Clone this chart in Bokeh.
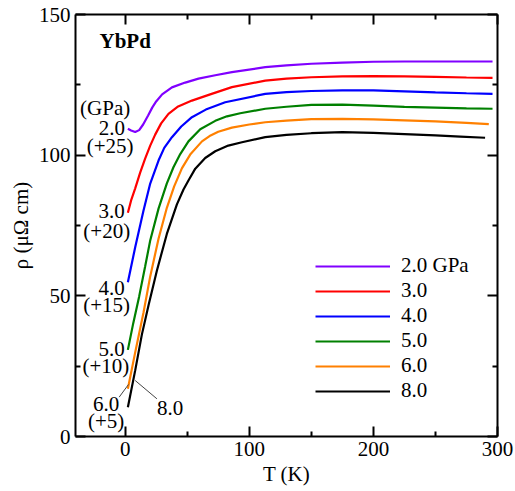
from bokeh.plotting import figure
from bokeh.models import Range1d, LinearAxis, FixedTicker, Legend, LegendItem
from bokeh.models.axes import Axis
from bokeh.core.properties import value
from bokeh.embed import file_html
from bokeh.resources import INLINE

FONT = "Liberation Serif"
FS = "21px"

# ---- data (T in K, rho in micro-ohm cm, offsets already included) ----
T_2 = [2.2, 4.8, 8.1, 11.3, 14.5, 18.5, 21.8, 25.0, 29.8, 37.7, 48.4, 59.1, 72.6, 86.0, 112.9,
       130, 150, 175, 200, 225, 250, 275, 296]
R_2 = [109.4, 108.8, 108.2, 108.9, 110.9, 114.1, 116.9, 119.1, 121.6, 124.1, 125.8, 127.2, 128.4, 129.5, 131.3,
       131.9, 132.5, 132.9, 133.2, 133.3, 133.3, 133.3, 133.3]

T_3 = [2.2, 4.8, 8.1, 12.1, 16.1, 20.2, 24.2, 29.0, 34.9, 42.7, 53.8, 68.5, 86.0, 112.9,
       130, 150, 175, 200, 225, 250, 275, 296]
R_3 = [79.5, 83.9, 88.2, 93.8, 98.8, 103.4, 107.3, 111.3, 114.7, 117.3, 119.4, 121.6, 124.2, 126.5,
       127.2, 127.7, 128.0, 128.1, 128.0, 127.8, 127.6, 127.5]

T_4 = [2.2, 8.1, 14.8, 20.2, 26.9, 31.5, 37.7, 45.2, 53.8, 65.0, 80.6, 112.9,
       130, 150, 175, 200, 225, 250, 275, 296]
R_4 = [54.8, 67.3, 80.3, 89.9, 98.1, 102.6, 106.4, 110.2, 113.5, 116.2, 118.8, 121.8,
       122.4, 122.8, 123.0, 123.0, 122.7, 122.3, 122.0, 121.8]

T_5 = [2.2, 6.5, 11.3, 16.1, 20.2, 26.9, 33.6, 39.0, 44.4, 51.0, 60.5, 72.6, 82.0, 92.7, 112.9,
       130, 150, 175, 200, 225, 250, 275, 296]
R_5 = [30.8, 40.2, 49.8, 60.4, 69.7, 81.0, 90.0, 95.8, 100.4, 104.9, 109.2, 112.2, 113.8, 114.9, 116.5,
       117.2, 117.9, 118.0, 117.6, 117.2, 116.9, 116.6, 116.5]

T_6 = [2.2, 8.1, 14.8, 20.2, 26.9, 33.6, 39.5, 45.7, 52.4, 61.9, 68.0, 75.0, 86.0, 100.0, 112.9,
       130, 150, 175, 200, 225, 250, 275, 293]
R_6 = [17.0, 29.9, 44.1, 56.9, 70.3, 81.3, 88.9, 95.3, 100.2, 104.9, 106.8, 108.3, 109.8, 110.9, 111.7,
       112.3, 112.8, 112.9, 112.7, 112.4, 112.0, 111.5, 111.0]

T_8 = [2.2, 8.1, 13.5, 18.8, 25.6, 33.6, 41.7, 47.0, 51.0, 56.5, 64.5, 72.6, 83.1, 94.1, 112.9,
       130, 150, 175, 200, 225, 250, 270, 290]
R_8 = [10.4, 23.5, 36.3, 46.6, 59.0, 72.0, 82.5, 87.8, 91.0, 95.2, 99.0, 101.4, 103.4, 104.6, 106.4,
       107.2, 107.8, 108.2, 107.9, 107.5, 107.0, 106.6, 106.2]

legend_labels = ["2.0 GPa", "3.0", "4.0", "5.0", "6.0", "8.0"]
colors = ["#8000ff", "#ff0000", "#0000ff", "#008000", "#ff8000", "#000000"]
series = [(T_2, R_2), (T_3, R_3), (T_4, R_4), (T_5, R_5), (T_6, R_6), (T_8, R_8)]

x_major = [0, 100, 200, 300]
x_minor = [50, 150, 250]
y_major = [0, 50, 100, 150]
y_minor = [25, 75, 125]

# curve annotations (text, T, rho)
ann_text = ["(GPa)", "2.0", "(+25)", "3.0", "(+20)", "4.0", "(+15)", "5.0", "(+10)", "6.0", "(+5)", "8.0"]
ann_x = [-16.1, -10.7, -12.1, -10.9, -14.8, -10.9, -14.9, -10.9, -15.5, -15.3, -15.3, 36.3]
ann_y = [116.6, 109.6, 103.2, 80.1, 72.9, 52.9, 46.9, 31.2, 24.9, 11.6, 5.4, 10.2]

# ---- figure ----
p = figure(width=515, height=491, x_range=Range1d(-40, 300), y_range=Range1d(0, 150),
           output_backend="svg", toolbar_location=None,
           min_border_left=75, min_border_right=18, min_border_top=14, min_border_bottom=55,
           x_axis_label="T (K)", y_axis_label="ρ (μΩ cm)")
p.grid.visible = False
p.outline_line_color = None
p.background_fill_color = "white"
p.border_fill_color = "white"

p.add_layout(LinearAxis(), "right")
p.add_layout(LinearAxis(), "above")

for side in ("below", "above", "left", "right"):
    for ax in getattr(p, side):
        if not isinstance(ax, Axis):
            continue
        ticks = x_major if side in ("below", "above") else y_major
        minors = x_minor if side in ("below", "above") else y_minor
        ax.ticker = FixedTicker(ticks=ticks, minor_ticks=minors)
        ax.axis_line_width = 2
        ax.axis_line_color = "black"
        ax.major_tick_in = 10
        ax.major_tick_out = 0
        ax.minor_tick_in = 5
        ax.minor_tick_out = 0
        ax.major_tick_line_width = 2
        ax.minor_tick_line_width = 2
        ax.major_tick_line_color = "black"
        ax.minor_tick_line_color = "black"
        ax.major_label_text_font = FONT
        ax.major_label_text_font_size = FS
        ax.major_label_text_color = "black"
        ax.major_label_standoff = 5
        ax.axis_label_text_font = FONT
        ax.axis_label_text_font_size = FS
        ax.axis_label_text_font_style = "normal"
        ax.axis_label_text_color = "black"
        ax.axis_label_standoff = 3
        if side in ("above", "right"):
            ax.major_label_overrides = {t: "" for t in ticks}
            ax.major_label_standoff = 0
            ax.axis_label = None

renderers = []
for (tx, ry), c in zip(series, colors):
    renderers.append(p.line(tx, ry, line_color=c, line_width=2.2))

items = [LegendItem(label=lab, renderers=[r]) for lab, r in zip(legend_labels, renderers)]
legend = Legend(items=items, location=(240, 33), orientation="vertical",
                glyph_width=75, glyph_height=24, label_height=24, spacing=0,
                label_standoff=11, padding=0, margin=0,
                border_line_color=None, background_fill_alpha=0,
                label_text_font=FONT, label_text_font_size=FS, label_text_color="black")
p.add_layout(legend)

# leader lines
p.line([8.1, 25.6], [19.9, 13.4], line_color="#444444", line_width=1)
p.line([2.7, -4.8], [18.5, 14.0], line_color="#444444", line_width=1)

p.text(x=ann_x, y=ann_y, text=ann_text, text_font=value(FONT), text_font_size=FS,
       text_align="center", text_baseline="middle", text_color="black")

p.text(x=[0], y=[140.6], text=["YbPd"], text_font=value(FONT), text_font_size=FS,
       text_font_style="bold", text_align="center", text_baseline="middle", text_color="black")

open("out.html", "w").write(file_html(p, INLINE))
